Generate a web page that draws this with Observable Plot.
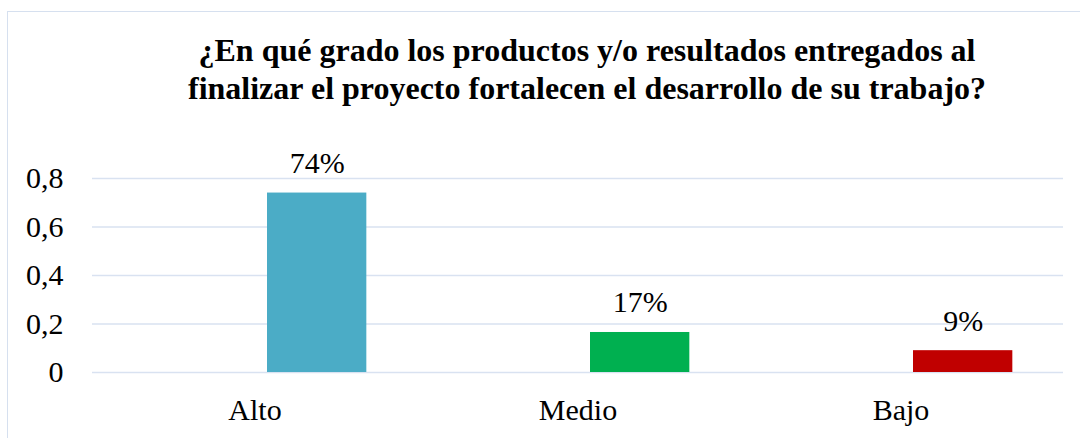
<!DOCTYPE html>
<html>
<head>
<meta charset="utf-8">
<script src="https://cdn.jsdelivr.net/npm/d3@7"></script>
<script src="https://cdn.jsdelivr.net/npm/@observablehq/plot@0.6"></script>
<style>
  html, body { margin: 0; padding: 0; background: #fff; overflow: hidden; }
  #wrap { position: relative; width: 1080px; height: 438px; overflow: hidden; }
  #frame { position: absolute; left: 7px; top: 11px; width: 1200px; height: 600px;
           border: 1.5px solid #d6e0ef; box-sizing: border-box; }
  #title { position: absolute; left: 587px; top: 32px; transform: translateX(-50%);
           font-family: 'Liberation Serif', serif; font-weight: bold;
           font-size: 32px; line-height: 37.5px; text-align: center; white-space: nowrap; color: #000; }
  #chart { position: absolute; left: 0; top: 120px; }
  #chart svg, #chart svg text { font-family: 'Liberation Serif', serif !important; }
</style>
</head>
<body>
<div id="wrap">
  <div id="frame"></div>
  <div id="title">¿En qué grado los productos y/o resultados entregados al<br>finalizar el proyecto fortalecen el desarrollo de su trabajo?</div>
  <div id="chart"></div>
</div>
<script>
const categories = ["Alto", "Medio", "Bajo"];
const values = [0.74, 0.165, 0.09];
const valueLabels = ["74%", "17%", "9%"];
const barColors = ["#4bacc6", "#00b050", "#c00000"];
const yTicks = [0, 0.2, 0.4, 0.6, 0.8];

const data = categories.map((c, i) => ({ cat: c, value: values[i], label: valueLabels[i], color: barColors[i] }));

const chart = Plot.plot({
  width: 1080,
  height: 318,
  marginLeft: 92,
  marginRight: 17,
  marginTop: 58,
  marginBottom: 66,
  style: { fontFamily: "'Liberation Serif', serif", fontSize: "30px", color: "#000", background: "transparent", overflow: "visible" },
  x: { domain: categories, padding: 0, label: null, tickSize: 0, tickPadding: 26 },
  y: { domain: [0, 0.8], ticks: yTicks, label: null, tickSize: 0, tickPadding: 29,
       tickFormat: d => String(d).replace(".", ",") },
  marks: [
    Plot.ruleY(yTicks, { stroke: "#d9e2f1", strokeWidth: 1.5 }),
    Plot.barY(data, { x: "cat", y: "value", fill: "color", insetLeft: 174, insetRight: 49.67 }),
    Plot.text(data, { x: "cat", y: "value", text: "label", dx: 62.2, dy: -20, lineAnchor: "bottom", fontSize: 30, fill: "#000" })
  ]
});
chart.querySelectorAll("[aria-label='x-axis tick label'] text, [aria-label='y-axis tick label'] text").forEach(t => t.setAttribute("fill", "#000"));
document.getElementById("chart").appendChild(chart);
</script>
</body>
</html>
